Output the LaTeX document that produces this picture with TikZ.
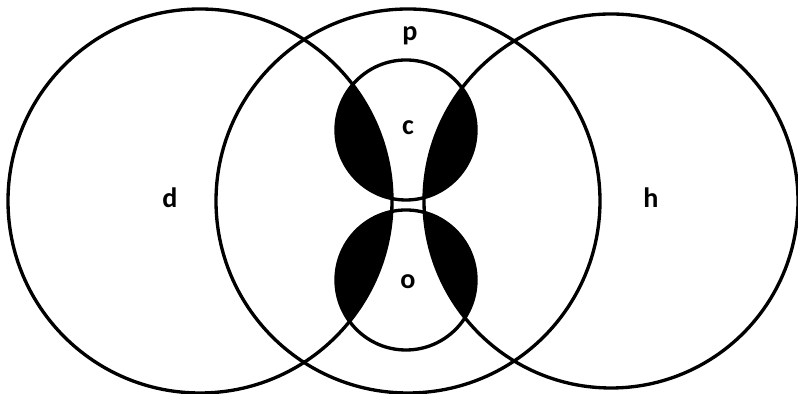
\documentclass[tikz,border=0pt]{standalone}
\usepackage{fontspec}
\setmainfont{Carlito}
\begin{document}
\begin{tikzpicture}[x=0.02cm,y=0.02cm,line width=1.9pt,
    lbl/.style={font=\bfseries\fontsize{16}{19}\selectfont}]
    \useasboundingbox (0,0) rectangle (798,394);
    \coordinate (D) at (200,193);
    \coordinate (P) at (408,193);
    \coordinate (H) at (611,193);
    \coordinate (U) at (406,264);
    \coordinate (L) at (406,114);
    % black lobes: inner circles cut by d and h
    \foreach \c in {U,L} {
        \begin{scope}
            \clip (\c) circle (70);
            \fill (D) circle (192);
            \fill (H) circle (187);
        \end{scope}
    }
    \foreach \c/\r in {D/192,P/192,H/187,U/70,L/70} \draw (\c) circle (\r);
    \node[lbl] (d) at (170,196) {d};
    \node[lbl] (h) at (651,196) {h};
    \node[lbl] (p) at (410,358) {p};
    \node[lbl] (c) at (408,266) {c};
    \node[lbl] (o) at (408,112) {o};
\end{tikzpicture}
\end{document}
